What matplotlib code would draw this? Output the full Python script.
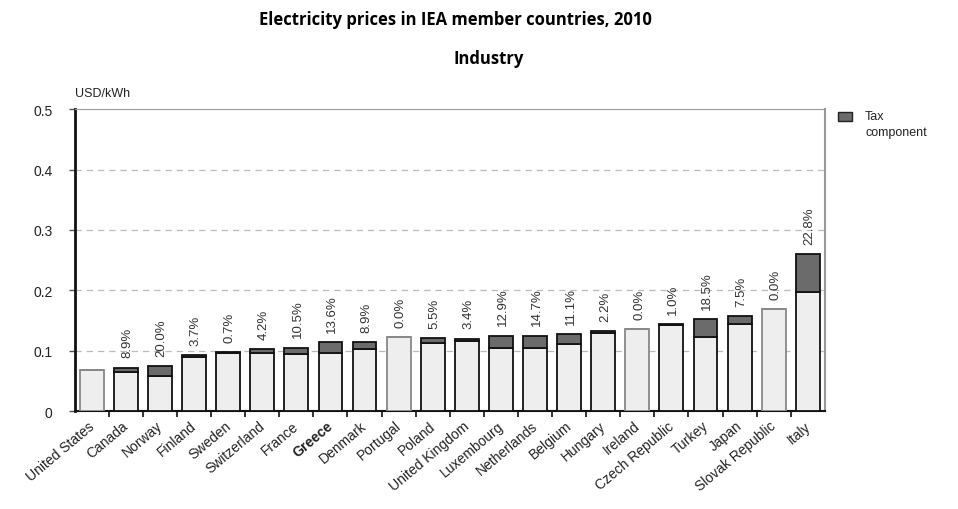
import matplotlib
matplotlib.use("Agg")
import matplotlib.pyplot as plt
from matplotlib.patches import Rectangle

countries = ["United States", "Canada", "Norway", "Finland", "Sweden", "Switzerland",
             "France", "Greece", "Denmark", "Portugal", "Poland", "United Kingdom",
             "Luxembourg", "Netherlands", "Belgium", "Hungary", "Ireland",
             "Czech Republic", "Turkey", "Japan", "Slovak Republic", "Italy"]
base_price = [0.068, 0.064, 0.058, 0.090, 0.097, 0.097, 0.094, 0.097, 0.102, 0.122,
              0.113, 0.116, 0.104, 0.104, 0.111, 0.130, 0.136, 0.142, 0.122, 0.144,
              0.169, 0.198]
tax_part = [0.000, 0.008, 0.016, 0.003, 0.001, 0.005, 0.011, 0.017, 0.012, 0.000,
            0.008, 0.004, 0.021, 0.021, 0.016, 0.003, 0.000, 0.0015, 0.030, 0.013,
            0.000, 0.062]
tax_labels = [None, "8.9%", "20.0%", "3.7%", "0.7%", "4.2%", "10.5%", "13.6%", "8.9%",
              "0.0%", "5.5%", "3.4%", "12.9%", "14.7%", "11.1%", "2.2%", "0.0%",
              "1.0%", "18.5%", "7.5%", "0.0%", "22.8%"]
y_ticks = [0, 0.1, 0.2, 0.3, 0.4, 0.5]
y_tick_labels = ["0", "0.1", "0.2", "0.3", "0.4", "0.5"]

plt.rcParams['font.family'] = ['Liberation Sans', 'DejaVu Sans']

fig = plt.figure(figsize=(9.58, 5.10), dpi=100)
ax = fig.add_axes([0.078, 0.192, 0.783, 0.592])

n = len(countries)
x = list(range(n))
edge = ['#888888' if t == 0 else '#111111' for t in tax_part]
ax.bar(x, base_price, width=0.7, color='#eeeeee', edgecolor=edge, linewidth=1.3, zorder=3)
ax.bar(x, tax_part, bottom=base_price, width=0.7, color='#6b6b6b', edgecolor=edge,
       linewidth=1.3, zorder=3)

for i in range(n):
    if tax_labels[i]:
        top = base_price[i] + tax_part[i]
        ax.text(i + 0.05, top + 0.017, tax_labels[i], rotation=90, ha='center', va='bottom',
                fontsize=9.5, color='#333333')

ax.set_xlim(-0.5, n - 0.5)
ax.set_ylim(0, 0.5)
ax.set_yticks(y_ticks)
ax.set_yticklabels(y_tick_labels, fontsize=10, color='#222222')
for yv in y_ticks[1:-1]:
    ax.axhline(yv, color='#bbbbbb', linestyle=(0, (5, 4)), linewidth=0.9, zorder=1)

ax.set_xticks([i - 0.5 for i in range(1, n)], minor=False)
ax.set_xticklabels([])
ax.tick_params(axis='x', direction='out', length=4, width=1.2, color='#111111')
ax.tick_params(axis='y', direction='out', length=4, width=1, color='#555555', pad=12)
for i, c in enumerate(countries):
    ax.text(i + 0.15, -0.012, c, rotation=40, ha='right', va='top', fontsize=10,
            color='#222222', fontweight='bold' if c == 'Greece' else 'normal',
            transform=ax.transData)

ax.spines['left'].set_color('#111111')
ax.spines['left'].set_linewidth(2)
ax.spines['bottom'].set_color('#111111')
ax.spines['bottom'].set_linewidth(1.5)
ax.spines['top'].set_color('#999999')
ax.spines['right'].set_color('#999999')
ax.spines['right'].set_linewidth(1.5)

fig.text(0.078, 0.815, "USD/kWh", fontsize=9, color='#222222', ha='left', va='center')

fig.text(0.475, 0.96, "Electricity prices in IEA member countries, 2010", fontsize=12,
         fontweight='bold', ha='center', va='center', family=['Open Sans', 'DejaVu Sans'])
fig.text(0.51, 0.885, "Industry", fontsize=12, fontweight='bold', ha='center', va='center',
         family=['Open Sans', 'DejaVu Sans'])

fig.patches.append(Rectangle((0.875, 0.760), 0.014, 0.019, transform=fig.transFigure,
                             facecolor='#6b6b6b', edgecolor='#222222', linewidth=1))
fig.text(0.903, 0.770, "Tax", fontsize=9, ha='left', va='center', color='#222222')
fig.text(0.903, 0.740, "component", fontsize=9, ha='left', va='center', color='#222222')

fig.savefig("out.png", dpi=100, facecolor='white')
